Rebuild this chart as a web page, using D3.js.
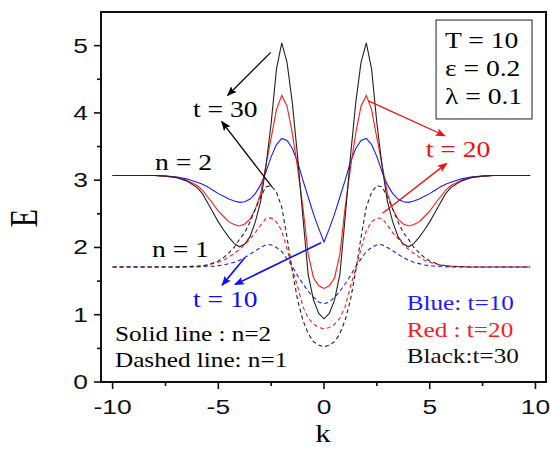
<!DOCTYPE html>
<html><head><meta charset="utf-8">
<script src="https://cdn.jsdelivr.net/npm/d3@7"></script>
<style>html,body{margin:0;padding:0;background:#fff;}svg{display:block;}</style>
</head><body>
<svg id="chart" width="550" height="453"></svg>
<script>
// ---------- data ----------
const kValues = [-10,-9,-8,-7.5,-7,-6.5,-6,-5.75,-5.5,-5.25,-5,-4.75,-4.5,-4.25,-4,-3.75,-3.5,-3.25,-3,-2.75,-2.5,-2.25,-2,-1.75,-1.5,-1.25,-1,-0.75,-0.5,-0.25,0,0.25,0.5,0.75,1,1.25,1.5,1.75,2,2.25,2.5,2.75,3,3.25,3.5,3.75,4,4.25,4.5,4.75,5,5.25,5.5,5.75,6,6.5,7,7.5,8,9,9.75];

const solidBlue_t10 = [3.07,3.07,3.07,3.06,3.05,3.02, 2.97,2.94,2.9,2.85,2.8,2.76,2.72,2.69,2.67,2.68,2.72,2.8,2.93,3.12,3.35,3.53,3.62,3.59,3.47,3.27,3.0,2.75,2.5,2.28, 2.08,2.28,2.5,2.75,3.0,3.27,3.47,3.59,3.62,3.53,3.35,3.12,2.93,2.8,2.72,2.68,2.67,2.69,2.72,2.76,2.8,2.85,2.9,2.94,2.97, 3.02,3.05,3.06,3.07,3.07,3.07];
const solidRed_t20 = [3.07,3.07,3.07,3.06,3.04,3.0, 2.92,2.85,2.75,2.65,2.54,2.46,2.38,2.34,2.32,2.35,2.42,2.57,2.8,3.22,3.63,4.05,4.26,4.1,3.7,3.18,2.6,1.9,1.55,1.43, 1.39,1.43,1.55,1.9,2.6,3.18,3.7,4.1,4.26,4.05,3.63,3.22,2.8,2.57,2.42,2.35,2.32,2.34,2.38,2.46,2.54,2.65,2.75,2.85,2.92, 3.0,3.04,3.06,3.07,3.07,3.07];
const solidBlack_t30 = [3.07,3.07,3.07,3.06,3.04,2.99, 2.89,2.8,2.66,2.52,2.38,2.26,2.15,2.06,2.01,2.05,2.16,2.38,2.68,3.2,3.85,4.65,5.04,4.75,4.15,3.35,2.45,1.6,1.22,1.02, 0.94,1.02,1.22,1.6,2.45,3.35,4.15,4.75,5.04,4.65,3.85,3.2,2.68,2.38,2.16,2.05,2.01,2.06,2.15,2.26,2.38,2.52,2.66,2.8,2.89, 2.99,3.04,3.06,3.07,3.07,3.07];
const dashedBlue_t10 = [1.71,1.71,1.71,1.71,1.71,1.71, 1.71,1.715,1.72,1.72,1.73,1.74,1.76,1.78,1.81,1.85,1.9,1.95,2.0,2.04,2.04,2.0,1.94,1.83,1.72,1.58,1.46,1.35,1.26,1.19, 1.16,1.19,1.26,1.35,1.46,1.58,1.72,1.83,1.94,2.0,2.04,2.04,2.0,1.95,1.9,1.85,1.81,1.78,1.76,1.74,1.73,1.72,1.72,1.715,1.71, 1.71,1.71,1.71,1.71,1.71,1.71];
const dashedRed_t20 = [1.71,1.71,1.71,1.71,1.71,1.715, 1.72,1.73,1.74,1.76,1.78,1.81,1.86,1.91,1.97,2.04,2.13,2.22,2.33,2.43,2.44,2.38,2.25,1.98,1.68,1.42,1.12,0.95,0.86,0.81, 0.79,0.81,0.86,0.95,1.12,1.42,1.68,1.98,2.25,2.38,2.44,2.43,2.33,2.22,2.13,2.04,1.97,1.91,1.86,1.81,1.78,1.76,1.74,1.73,1.72, 1.715,1.71,1.71,1.71,1.71,1.71];
const dashedBlack_t30 = [1.71,1.71,1.71,1.71,1.71,1.715, 1.72,1.73,1.74,1.77,1.8,1.85,1.92,2.0,2.12,2.22,2.38,2.57,2.75,2.9,2.92,2.82,2.6,2.15,1.65,1.22,0.92,0.72,0.6,0.55, 0.52,0.55,0.6,0.72,0.92,1.22,1.65,2.15,2.6,2.82,2.92,2.9,2.75,2.57,2.38,2.22,2.12,2.0,1.92,1.85,1.8,1.77,1.74,1.73,1.72, 1.715,1.71,1.71,1.71,1.71,1.71];

const xTicks = [-10,-5,0,5,10];
const xMinorTicks = [-7.5,-2.5,2.5,7.5];
const yTicks = [0,1,2,3,4,5];
const yMinorTicks = [0.5,1.5,2.5,3.5,4.5];

const paramLines = ["T = 10", "\u03b5 = 0.2", "\u03bb = 0.1"];
const colorNotes = ["Blue: t=10", "Red : t=20", "Black:t=30"];
const styleNotes = ["Solid line : n=2", "Dashed line: n=1"];

// annotation anchors in data units [k, E]
const labelsPos = [
  {text:"t = 30", k:-6.2, E:3.94, color:"#000"},
  {text:"n = 2", k:-7.99, E:3.15, color:"#000"},
  {text:"n = 1", k:-8.14, E:1.86, color:"#000"},
  {text:"t = 10", k:-6.2, E:1.11, color:"#1010ee"},
  {text:"t = 20", k:4.81, E:3.35, color:"#ee1111"}
];
const arrows = [
  {from:[-2.52,4.90], to:[-4.56,4.26], color:"#000"},
  {from:[-2.46,2.90], to:[-4.84,3.87], color:"#000"},
  {from:[2.10,4.18], to:[5.72,3.66], color:"#ee1111"},
  {from:[2.77,2.51], to:[5.80,3.25], color:"#ee1111"},
  {from:[-3.74,1.85], to:[-4.82,1.44], color:"#1010ee"},
  {from:[-0.14,2.07], to:[-4.21,1.45], color:"#1010ee"}
];

// ---------- layout ----------
const svg = d3.select("#chart");
const pLeft = 101, pRight = 546, pTop = 12, pBottom = 382;
const x = d3.scaleLinear().domain([-10.55, 10.5]).range([pLeft, pRight]);
const y = d3.scaleLinear().domain([0, 5.5]).range([pBottom, pTop]);
const SX = 1.2;
const serif = "'Liberation Serif','Times New Roman',serif";
const sans = "'Liberation Sans',Arial,sans-serif";

function txt(px, py, s, o) {
  o = o || {};
  return svg.append("text")
    .attr("transform", `translate(${px},${py}) scale(${o.sx || SX},1)`)
    .attr("font-family", o.font || serif)
    .attr("font-size", o.size || 22)
    .attr("fill", o.color || "#000")
    .attr("text-anchor", o.anchor || "start")
    .text(s);
}

// markers
const defs = svg.append("defs");
const markerColors = {"#000":"mk-black", "#ee1111":"mk-red", "#1010ee":"mk-blue"};
Object.entries(markerColors).forEach(([c, id]) => {
  defs.append("marker").attr("id", id)
    .attr("viewBox", "0 0 10 8").attr("refX", 9).attr("refY", 4)
    .attr("markerWidth", 10).attr("markerHeight", 8)
    .attr("markerUnits", "userSpaceOnUse").attr("orient", "auto")
    .append("path").attr("d", "M0,0 L10,4 L0,8 L2,4 z").attr("fill", c);
});

// lines
const series = [
  {v: solidBlue_t10, c:"#1a1aff", dash:null},
  {v: solidRed_t20, c:"#ff1a1a", dash:null},
  {v: solidBlack_t30, c:"#222", dash:null},
  {v: dashedBlue_t10, c:"#1a1aff", dash:"4,3"},
  {v: dashedRed_t20, c:"#ff1a1a", dash:"4,3"},
  {v: dashedBlack_t30, c:"#222", dash:"4,3"}
];
const line = d3.line().x(d => x(d[0])).y(d => y(d[1])).curve(d3.curveLinear);
series.forEach(s => {
  svg.append("path")
    .datum(kValues.map((k, i) => [k, s.v[i]]))
    .attr("d", line).attr("fill", "none")
    .attr("stroke", s.c).attr("stroke-width", 1.1)
    .attr("stroke-dasharray", s.dash);
});

// axes frame
svg.append("rect").attr("x", pLeft).attr("y", pTop)
  .attr("width", pRight - pLeft).attr("height", pBottom - pTop)
  .attr("fill", "none").attr("stroke", "#111").attr("stroke-width", 2);

// ticks
const axisG = svg.append("g").attr("stroke", "#111").attr("stroke-width", 1.6);
xTicks.forEach(t => axisG.append("line").attr("x1", x(t)).attr("x2", x(t)).attr("y1", pBottom).attr("y2", pBottom + 7));
xMinorTicks.forEach(t => axisG.append("line").attr("x1", x(t)).attr("x2", x(t)).attr("y1", pBottom).attr("y2", pBottom + 4));
xTicks.forEach(t => txt(x(t), 414, String(t), {font: sans, size: 20, anchor: "middle", sx: 1.32, color:"#111"}));
yTicks.forEach(t => axisG.append("line").attr("x1", pLeft - 7).attr("x2", pLeft).attr("y1", y(t)).attr("y2", y(t)));
yMinorTicks.forEach(t => axisG.append("line").attr("x1", pLeft - 4).attr("x2", pLeft).attr("y1", y(t)).attr("y2", y(t)));
yTicks.forEach(t => txt(88, y(t) + 7, String(t), {font: sans, size: 20, anchor: "end", sx: 1.32, color:"#111"}));

// axis titles
txt(323, 442, "k", {size: 26, anchor: "middle"});
svg.append("text").attr("transform", `translate(37,218) scale(1.3,1) rotate(-90)`)
  .attr("font-family", serif).attr("font-size", 30).attr("text-anchor", "middle").text("E");

// parameter box
svg.append("rect").attr("x", x(5.30)).attr("y", y(5.38))
  .attr("width", x(9.84) - x(5.30)).attr("height", y(3.91) - y(5.38))
  .attr("fill", "#fff").attr("stroke", "#444").attr("stroke-width", 1.2);
[4.96, 4.55, 4.13].forEach((e, i) => txt(x(5.72), y(e), paramLines[i], {size: 23}));

// notes
const noteColors = ["#1a1aff", "#ff1a1a", "#111"];
[1.07, 0.67, 0.28].forEach((e, i) => txt(x(3.91), y(e), colorNotes[i], {size: 21, color: noteColors[i]}));
[0.61, 0.23].forEach((e, i) => txt(x(-9.89), y(e), styleNotes[i], {size: 21}));

// labels
labelsPos.forEach(l => txt(x(l.k), y(l.E), l.text, {size: 23, color: l.color}));

// arrows
arrows.forEach(a => {
  svg.append("line")
    .attr("x1", x(a.from[0])).attr("y1", y(a.from[1]))
    .attr("x2", x(a.to[0])).attr("y2", y(a.to[1]))
    .attr("stroke", a.color).attr("stroke-width", a.color === "#1010ee" ? 1.6 : 1.3)
    .attr("marker-end", `url(#${markerColors[a.color]})`);
});
</script>
</body></html>
